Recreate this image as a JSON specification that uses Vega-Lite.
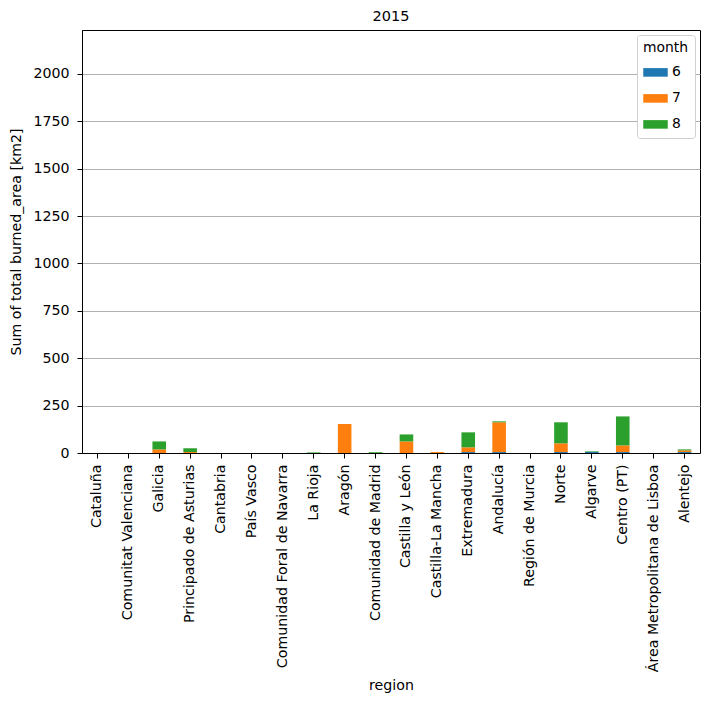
{
  "$schema": "https://vega.github.io/schema/vega-lite/v6.json",
  "autosize": {"type": "none"},
  "padding": {"left": 82, "top": 30, "right": 11, "bottom": 249},
  "width": 618,
  "height": 423,
  "title": {"text": "2015", "fontSize": 14.5, "fontWeight": "normal", "font": "DejaVu Sans", "color": "black", "offset": 6},
  "config": {
    "font": "DejaVu Sans",
    "view": {"stroke": "black", "strokeWidth": 1},
    "axis": {"labelFont": "DejaVu Sans", "titleFont": "DejaVu Sans", "labelFontSize": 14.2, "titleFontSize": 14.2, "titleFontWeight": "normal", "labelColor": "black", "titleColor": "black", "domainColor": "black", "tickColor": "black", "tickSize": 5, "labelLimit": 0}
  },
  "data": {"values": [
    {"region": "Cataluña", "month": 7, "area": 0},
    {"region": "Comunitat Valenciana", "month": 7, "area": 0},
    {"region": "Galicia", "month": 7, "area": 19},
    {"region": "Galicia", "month": 8, "area": 42},
    {"region": "Principado de Asturias", "month": 7, "area": 5},
    {"region": "Principado de Asturias", "month": 8, "area": 20},
    {"region": "Cantabria", "month": 7, "area": 0},
    {"region": "País Vasco", "month": 7, "area": 0},
    {"region": "Comunidad Foral de Navarra", "month": 7, "area": 0},
    {"region": "La Rioja", "month": 8, "area": 3},
    {"region": "Aragón", "month": 7, "area": 153},
    {"region": "Comunidad de Madrid", "month": 8, "area": 4},
    {"region": "Castilla y León", "month": 7, "area": 61},
    {"region": "Castilla y León", "month": 8, "area": 37},
    {"region": "Castilla-La Mancha", "month": 7, "area": 5},
    {"region": "Extremadura", "month": 6, "area": 5},
    {"region": "Extremadura", "month": 7, "area": 25},
    {"region": "Extremadura", "month": 8, "area": 79},
    {"region": "Andalucía", "month": 6, "area": 5},
    {"region": "Andalucía", "month": 7, "area": 157},
    {"region": "Andalucía", "month": 8, "area": 5},
    {"region": "Región de Murcia", "month": 7, "area": 0},
    {"region": "Norte", "month": 6, "area": 5},
    {"region": "Norte", "month": 7, "area": 46},
    {"region": "Norte", "month": 8, "area": 111},
    {"region": "Algarve", "month": 6, "area": 6},
    {"region": "Algarve", "month": 8, "area": 3},
    {"region": "Centro (PT)", "month": 6, "area": 5},
    {"region": "Centro (PT)", "month": 7, "area": 35},
    {"region": "Centro (PT)", "month": 8, "area": 153},
    {"region": "Área Metropolitana de Lisboa", "month": 7, "area": 0},
    {"region": "Alentejo", "month": 6, "area": 5},
    {"region": "Alentejo", "month": 7, "area": 9},
    {"region": "Alentejo", "month": 8, "area": 5}
  ]},
  "mark": {"type": "bar"},
  "encoding": {
    "x": {
      "field": "region", "type": "nominal",
      "sort": ["Cataluña", "Comunitat Valenciana", "Galicia", "Principado de Asturias", "Cantabria", "País Vasco", "Comunidad Foral de Navarra", "La Rioja", "Aragón", "Comunidad de Madrid", "Castilla y León", "Castilla-La Mancha", "Extremadura", "Andalucía", "Región de Murcia", "Norte", "Algarve", "Centro (PT)", "Área Metropolitana de Lisboa", "Alentejo"],
      "scale": {"paddingInner": 0.56, "paddingOuter": 0.28},
      "axis": {"title": "region", "labelAngle": -90, "labelPadding": 6, "titlePadding": 25, "grid": false}
    },
    "y": {
      "field": "area", "type": "quantitative", "aggregate": "sum", "stack": "zero",
      "scale": {"domain": [0, 2232], "nice": false},
      "axis": {"title": "Sum of total burned_area [km2]", "format": "d", "values": [0, 250, 500, 750, 1000, 1250, 1500, 1750, 2000], "grid": true, "gridColor": "#b0b0b0", "gridWidth": 1, "labelPadding": 8, "titlePadding": 9}
    },
    "order": {"field": "month", "type": "quantitative", "sort": "ascending"},
    "color": {
      "field": "month", "type": "ordinal",
      "scale": {"domain": [6, 7, 8], "range": ["#1f77b4", "#ff7f0e", "#2ca02c"]},
      "legend": {"title": "month", "orient": "top-right", "offset": 5, "strokeColor": "#d0d0d0", "fillColor": "white", "padding": 6, "cornerRadius": 3, "titleFontSize": 13.9, "titleFontWeight": "normal", "labelFontSize": 13.9, "symbolType": "M-1,-0.35 H1 V0.35 H-1 Z", "symbolSize": 600, "symbolStrokeWidth": 0, "symbolOpacity": 1, "titleColor": "black", "labelColor": "black", "rowPadding": 6}
    }
  }
}
